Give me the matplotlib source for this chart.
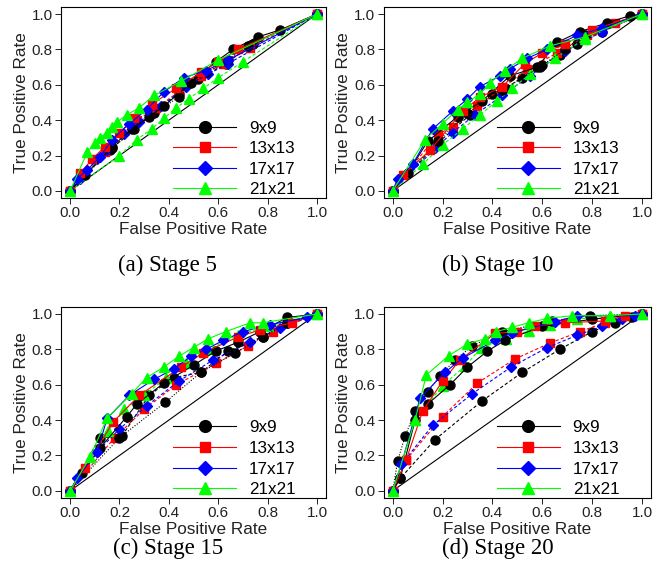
import matplotlib
matplotlib.use("Agg")
import matplotlib.pyplot as plt

plt.rcParams['font.family'] = ['Liberation Sans', 'DejaVu Sans']

sizes = ["9x9", "13x13", "17x17", "21x21"]
colors = ["black", "red", "blue", "#00ff00"]
markers = ["o", "s", "D", "^"]
msizes = [6.5, 6, 5.5, 7]
captions = ["(a) Stage 5", "(b) Stage 10", "(c) Stage 15", "(d) Stage 20"]
ticks = [0.0, 0.2, 0.4, 0.6, 0.8, 1.0]

# ---- Stage 5: per size [9x9, 13x13, 17x17, 21x21] ----
s5_solid_x = [[0, 0.06, 0.17, 0.25, 0.38, 0.49, 0.59, 0.66, 0.76, 0.85, 1],
              [0, 0.04, 0.09, 0.14, 0.20, 0.26, 0.33, 0.43, 0.53, 0.60, 0.68, 1],
              [0, 0.03, 0.07, 0.12, 0.17, 0.24, 0.31, 0.38, 0.46, 0.55, 0.64, 1],
              [0, 0.07, 0.10, 0.12, 0.15, 0.17, 0.19, 0.23, 0.28, 0.34, 0.45, 0.60, 1]]
s5_solid_y = [[0, 0.09, 0.25, 0.35, 0.48, 0.61, 0.73, 0.80, 0.87, 0.91, 1],
              [0, 0.10, 0.18, 0.25, 0.33, 0.41, 0.49, 0.58, 0.67, 0.73, 0.80, 1],
              [0, 0.07, 0.12, 0.19, 0.29, 0.38, 0.46, 0.56, 0.64, 0.68, 0.74, 1],
              [0, 0.22, 0.27, 0.30, 0.33, 0.36, 0.39, 0.43, 0.47, 0.54, 0.62, 0.74, 1]]
s5_dash_x = [[0, 0.16, 0.26, 0.34, 0.44, 0.52, 0.63, 0.74, 1],
             [0, 0.05, 0.14, 0.27, 0.35, 0.44, 0.53, 0.62, 0.73, 1],
             [0, 0.04, 0.11, 0.15, 0.22, 0.28, 0.37, 0.47, 0.56, 0.64, 1],
             [0, 0.20, 0.27, 0.33, 0.38, 0.43, 0.48, 0.54, 0.60, 0.70, 1]]
s5_dash_y = [[0, 0.23, 0.35, 0.44, 0.55, 0.63, 0.72, 0.83, 1],
             [0, 0.09, 0.22, 0.40, 0.47, 0.56, 0.65, 0.72, 0.81, 1],
             [0, 0.07, 0.18, 0.23, 0.32, 0.39, 0.48, 0.59, 0.66, 0.72, 1],
             [0, 0.20, 0.29, 0.35, 0.41, 0.47, 0.52, 0.58, 0.64, 0.73, 1]]
s5_dot_x = [0, 0.17, 0.32, 0.44, 0.55, 0.64, 0.72, 1]
s5_dot_y = [0, 0.24, 0.42, 0.53, 0.67, 0.74, 0.82, 1]

# ---- Stage 10 ----
s10_solid_x = [[0, 0.06, 0.14, 0.26, 0.36, 0.47, 0.58, 0.66, 0.75, 0.86, 0.95, 1],
               [0, 0.04, 0.15, 0.28, 0.35, 0.44, 0.53, 0.60, 0.69, 0.80, 1],
               [0, 0.02, 0.08, 0.16, 0.24, 0.30, 0.35, 0.43, 0.47, 0.54, 0.62, 0.74, 0.84, 1],
               [0, 0.13, 0.20, 0.26, 0.30, 0.35, 0.39, 0.45, 0.52, 0.63, 0.77, 1]]
s10_solid_y = [[0, 0.10, 0.28, 0.42, 0.51, 0.65, 0.70, 0.84, 0.90, 0.95, 0.99, 1],
               [0, 0.09, 0.23, 0.45, 0.53, 0.59, 0.72, 0.78, 0.83, 0.91, 1],
               [0, 0.07, 0.15, 0.35, 0.45, 0.52, 0.59, 0.65, 0.69, 0.75, 0.80, 0.88, 0.92, 1],
               [0, 0.29, 0.38, 0.46, 0.50, 0.55, 0.61, 0.68, 0.75, 0.82, 0.87, 1]]
s10_dash_x = [[0, 0.18, 0.31, 0.40, 0.45, 0.52, 0.60, 0.67, 0.74, 0.84, 1],
              [0, 0.18, 0.24, 0.34, 0.44, 0.54, 0.66, 0.78, 0.89, 1],
              [0, 0.17, 0.24, 0.33, 0.44, 0.55, 0.69, 0.84, 1],
              [0, 0.12, 0.20, 0.28, 0.35, 0.42, 0.48, 0.55, 0.65, 0.77, 1]]
s10_dash_y = [[0, 0.27, 0.43, 0.55, 0.58, 0.64, 0.71, 0.77, 0.83, 0.90, 1],
              [0, 0.32, 0.36, 0.48, 0.58, 0.69, 0.78, 0.88, 0.95, 1],
              [0, 0.24, 0.33, 0.43, 0.54, 0.65, 0.79, 0.90, 1],
              [0, 0.15, 0.26, 0.35, 0.43, 0.51, 0.58, 0.66, 0.75, 0.86, 1]]
s10_dot_x = [0, 0.18, 0.30, 0.44, 0.59, 0.69, 0.77, 1]
s10_dot_y = [0, 0.28, 0.44, 0.57, 0.70, 0.80, 0.88, 1]

# ---- Stage 15 ----
s15_solid_x = [[0, 0.05, 0.12, 0.23, 0.27, 0.38, 0.50, 0.59, 0.68, 0.77, 0.88, 1],
               [0, 0.06, 0.175, 0.28, 0.45, 0.54, 0.68, 0.77, 0.90, 1],
               [0, 0.03, 0.11, 0.15, 0.24, 0.34, 0.42, 0.49, 0.55, 0.62, 0.70, 0.81, 0.96, 1],
               [0, 0.08, 0.15, 0.25, 0.31, 0.38, 0.44, 0.50, 0.56, 0.63, 0.73, 0.78, 1]]
s15_solid_y = [[0, 0.10, 0.24, 0.42, 0.49, 0.61, 0.71, 0.79, 0.84, 0.90, 0.98, 1],
               [0, 0.13, 0.39, 0.54, 0.70, 0.78, 0.87, 0.91, 0.95, 1],
               [0, 0.075, 0.22, 0.41, 0.54, 0.63, 0.69, 0.76, 0.80, 0.85, 0.90, 0.94, 0.98, 1],
               [0, 0.19, 0.41, 0.55, 0.64, 0.70, 0.76, 0.81, 0.86, 0.90, 0.95, 0.95, 1]]
s15_dash_x = [[0, 0.12, 0.21, 0.32, 0.42, 0.53, 0.64, 0.78, 0.88, 1],
              [0, 0.18, 0.30, 0.43, 0.59, 0.72, 0.82, 1],
              [0, 0.11, 0.20, 0.31, 0.44, 0.58, 0.73, 0.85, 1],
              [0, 0.155, 0.22, 0.30, 0.39, 0.47, 0.56, 0.68, 0.80, 1]]
s15_dash_y = [[0, 0.30, 0.31, 0.54, 0.64, 0.67, 0.79, 0.87, 0.95, 1],
              [0, 0.30, 0.46, 0.60, 0.72, 0.82, 0.90, 1],
              [0, 0.22, 0.35, 0.48, 0.62, 0.74, 0.84, 0.92, 1],
              [0, 0.34, 0.46, 0.54, 0.64, 0.72, 0.80, 0.88, 0.93, 1]]
s15_dot_x = [0, 0.20, 0.385, 0.53, 0.67, 0.78, 0.88, 1]
s15_dot_y = [0, 0.30, 0.50, 0.67, 0.78, 0.87, 0.95, 1]

# ---- Stage 20 ----
s20_solid_x = [[0, 0.03, 0.09, 0.14, 0.23, 0.30, 0.38, 0.45, 0.60, 0.80, 1],
               [0, 0.054, 0.12, 0.20, 0.27, 0.41, 0.50, 0.57, 0.69, 0.85, 0.93, 1],
               [0, 0.035, 0.11, 0.21, 0.28, 0.41, 0.48, 0.65, 0.74, 0.97, 1],
               [0, 0.09, 0.135, 0.225, 0.30, 0.37, 0.415, 0.48, 0.545, 0.62, 0.72, 0.87, 1]]
s20_solid_y = [[0, 0.07, 0.40, 0.49, 0.60, 0.70, 0.79, 0.85, 0.93, 0.97, 1],
               [0, 0.175, 0.45, 0.62, 0.74, 0.89, 0.90, 0.93, 0.95, 0.96, 0.99, 1],
               [0, 0.15, 0.525, 0.67, 0.75, 0.85, 0.895, 0.955, 0.99, 0.99, 1],
               [0, 0.40, 0.655, 0.765, 0.83, 0.86, 0.90, 0.925, 0.95, 0.975, 0.99, 0.99, 1]]
s20_dash_x = [[0, 0.03, 0.17, 0.36, 0.52, 0.67, 0.80, 0.89, 0.96, 1],
              [0, 0.054, 0.20, 0.34, 0.49, 0.63, 0.75, 0.85, 1],
              [0, 0.035, 0.16, 0.32, 0.475, 0.62, 0.74, 0.84, 0.92, 1],
              [0, 0.09, 0.20, 0.29, 0.355, 0.455, 0.545, 0.63, 0.74, 0.87, 1]]
s20_dash_y = [[0, 0.07, 0.29, 0.51, 0.67, 0.80, 0.90, 0.95, 0.98, 1],
              [0, 0.175, 0.42, 0.61, 0.745, 0.835, 0.90, 0.95, 1],
              [0, 0.15, 0.37, 0.55, 0.70, 0.81, 0.88, 0.93, 0.97, 1],
              [0, 0.40, 0.595, 0.705, 0.81, 0.86, 0.905, 0.94, 0.97, 0.99, 1]]
s20_dot_x = [0, 0.02, 0.05, 0.09, 0.14, 0.19, 0.25, 0.32, 0.44, 0.64, 0.79, 1]
s20_dot_y = [0, 0.17, 0.31, 0.45, 0.56, 0.65, 0.74, 0.82, 0.90, 0.96, 0.99, 1]

panels = [
    (s5_solid_x, s5_solid_y, s5_dash_x, s5_dash_y, s5_dot_x, s5_dot_y),
    (s10_solid_x, s10_solid_y, s10_dash_x, s10_dash_y, s10_dot_x, s10_dot_y),
    (s15_solid_x, s15_solid_y, s15_dash_x, s15_dash_y, s15_dot_x, s15_dot_y),
    (s20_solid_x, s20_solid_y, s20_dash_x, s20_dash_y, s20_dot_x, s20_dot_y),
]

fig = plt.figure(figsize=(6.65, 5.79), dpi=100)
# axes boxes [left, bottom, width, height] in figure fractions
boxes = [[0.092, 0.658, 0.398, 0.330],
         [0.577, 0.658, 0.402, 0.330],
         [0.092, 0.140, 0.398, 0.330],
         [0.577, 0.140, 0.402, 0.330]]
cap_pos = [(0.252, 0.542), (0.748, 0.542), (0.252, 0.053), (0.748, 0.053)]

for i, (sx, sy, dx, dy, tx, ty) in enumerate(panels):
    ax = fig.add_axes(boxes[i])
    ax.plot([0, 1], [0, 1], color="black", lw=0.8, zorder=1)
    # dashed / dotted curves first, solid on top
    for k in range(4):
        ax.plot(dx[k], dy[k], color=colors[k], ls=(0, (3, 2)), lw=0.8,
                marker=markers[k], ms=msizes[k], zorder=2)
    ax.plot(tx, ty, color="black", ls=(0, (1, 1.5)), lw=0.8,
            marker="o", ms=msizes[0], zorder=2)
    for k in range(4):
        ax.plot(sx[k], sy[k], color=colors[k], lw=0.8, marker=markers[k],
                ms=msizes[k], label=sizes[k], zorder=3)

    ax.set_xlim(-0.036, 1.036)
    ax.set_ylim(-0.04, 1.04)
    ax.set_xticks(ticks)
    ax.set_yticks(ticks)
    ax.set_xticklabels(["%.1f" % t for t in ticks])
    ax.set_yticklabels(["%.1f" % t for t in ticks])
    ax.tick_params(labelsize=11, length=4, width=0.7, pad=2, colors="#222222",
                   labelcolor="#222222")
    for sp in ax.spines.values():
        sp.set_linewidth(0.8)
    ax.set_xlabel("False Positive Rate", fontsize=12.3, labelpad=1,
                  color="#222222")
    ax.set_ylabel("True Positive Rate", fontsize=12.3, labelpad=2,
                  color="#222222")

    ax.legend(loc="lower left", bbox_to_anchor=(0.41, -0.015), frameon=False,
              fontsize=12.3, handlelength=3.7, handletextpad=0.75,
              labelspacing=0.33, borderpad=0.2, borderaxespad=0,
              numpoints=1, markerscale=1.3)

    fig.text(cap_pos[i][0], cap_pos[i][1], captions[i], ha="center",
             va="center", fontsize=16.5, family="Liberation Serif")

fig.savefig("out.png", dpi=100)
